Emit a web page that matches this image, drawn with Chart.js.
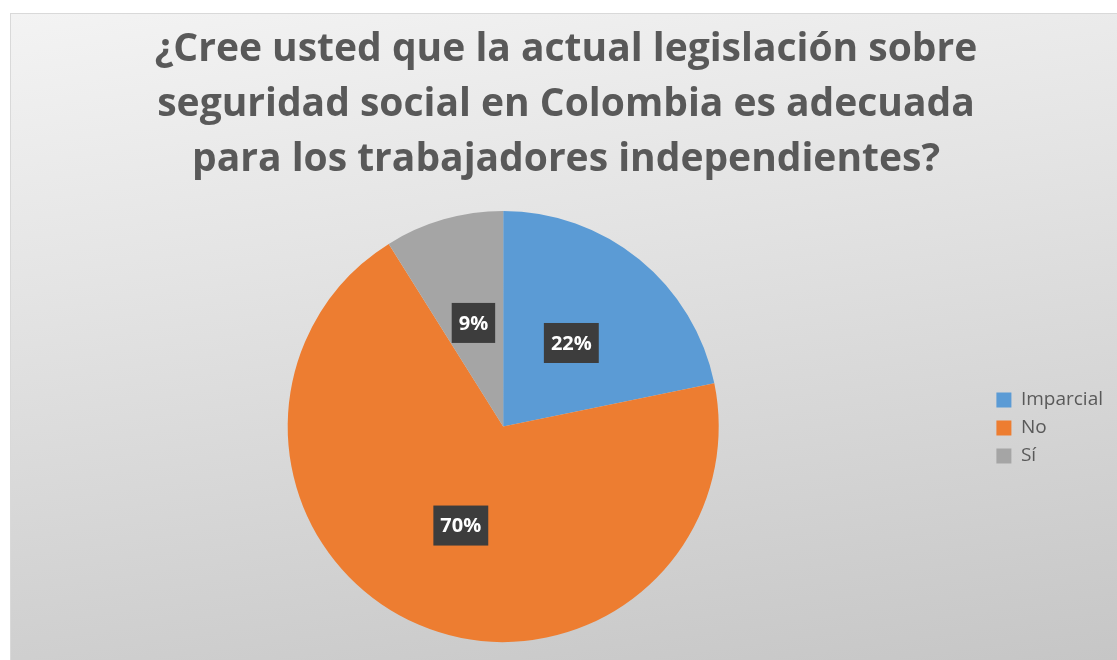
<!DOCTYPE html>
<html>
<head>
<meta charset="utf-8">
<script src="https://cdn.jsdelivr.net/npm/chart.js@4"></script>
<style>
  html, body { margin: 0; padding: 0; background: #ffffff; }
  #wrap {
    position: absolute;
    left: 10px;
    top: 13px;
    width: 1107px;
    height: 647px;
    border-left: 1px solid #d9d9d9;
    border-top: 1px solid #d9d9d9;
    box-sizing: border-box;
    background: linear-gradient(172deg, #f3f3f3 0%, #e4e4e4 35%, #c6c6c6 100%);
  }
</style>
</head>
<body>
<div id="wrap"><canvas id="pieChart"></canvas></div>
<script>
'use strict';

const titleLines = [
  '¿Cree usted que la actual legislación sobre',
  'seguridad social en Colombia es adecuada',
  'para los trabajadores independientes?'
];
const categories = ['Imparcial', 'No', 'Sí'];
const percentages = [22, 70, 9];
const sliceColors = ['#5B9BD5', '#ED7D31', '#A5A5A5'];

/**
 * dark boxed percentage labels in the middle of each slice
 */
const boxLabels = {
  id: 'boxLabels',
  afterDatasetsDraw(chart) {
    const ctx = chart.ctx;
    const meta = chart.getDatasetMeta(0);
    ctx.save();
    ctx.font = 'bold 20px "Open Sans", sans-serif';
    ctx.textAlign = 'center';
    ctx.textBaseline = 'middle';
    meta.data.forEach(function (arc, i) {
      const pos = arc.tooltipPosition();
      const text = percentages[i] + '%';
      const w = ctx.measureText(text).width + 14;
      const h = 40;
      ctx.fillStyle = '#3d3d3d';
      ctx.fillRect(pos.x - w / 2, pos.y - h / 2, w, h);
      ctx.fillStyle = '#ffffff';
      ctx.fillText(text, pos.x, pos.y + 1);
    });
    ctx.restore();
  }
};

const ctx = document.getElementById('pieChart').getContext('2d');
const pieChart = new Chart(ctx, {
  type: 'pie',
  data: {
    labels: categories,
    datasets: [{
      data: percentages,
      backgroundColor: sliceColors,
      borderWidth: 0
    }]
  },
  options: {
    responsive: true,
    maintainAspectRatio: false,
    animation: false,
    layout: {
      padding: { left: 8, right: 4, top: 0, bottom: 18 }
    },
    plugins: {
      title: {
        display: true,
        text: titleLines,
        color: '#595959',
        font: { family: '"Open Sans", sans-serif', size: 39, weight: 'bold', lineHeight: 1.41 },
        padding: { top: 8, bottom: 24 }
      },
      legend: {
        position: 'right',
        title: {
          display: true,
          text: '',
          font: { size: 10, lineHeight: 1 },
          padding: { top: 190, bottom: 0 }
        },
        labels: {
          color: '#595959',
          font: { family: '"Open Sans", sans-serif', size: 19 },
          boxWidth: 15,
          boxHeight: 15,
          padding: 9
        }
      },
      tooltip: { enabled: false }
    }
  },
  plugins: [boxLabels]
});
</script>
</body>
</html>
